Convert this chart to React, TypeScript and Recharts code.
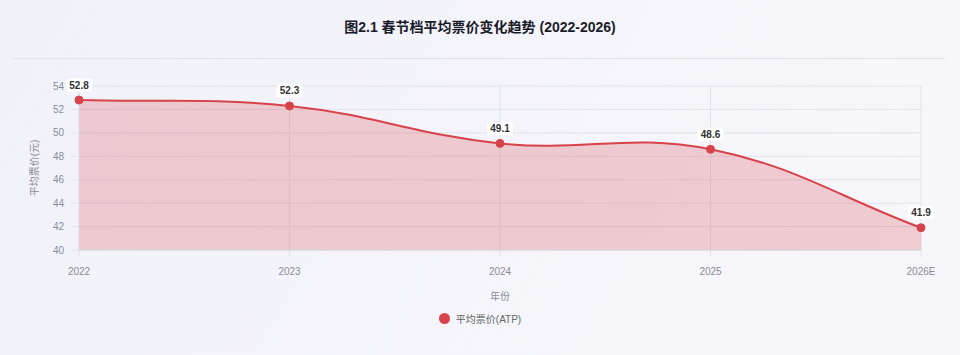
import React from "react"
import { AreaChart, Area, XAxis, YAxis, CartesianGrid, Legend, LabelList, Label } from "recharts"

const years = ["2022", "2023", "2024", "2025", "2026E"]
const atp = [52.8, 52.3, 49.1, 48.6, 41.9]
const yTicks = [40, 42, 44, 46, 48, 50, 52, 54]

const data = years.map((year, i) => ({ year, atp: atp[i] }))

const LINE = "#d8434b"
const GRID = "#e2e2ea"
const AXIS_TEXT = "#8b8b98"
const FONT = '"Liberation Sans", "Noto Sans CJK SC", sans-serif'

// spline like chart.js (tension 0.4), passes through every point
function splineCurve(context: any) {
  let pts: number[][] = []
  let line = NaN
  const tension = 0.4
  return {
    areaStart() {
      line = 0
    },
    areaEnd() {
      line = NaN
    },
    lineStart() {
      pts = []
    },
    point(x: number, y: number) {
      pts.push([+x, +y])
    },
    lineEnd() {
      const n = pts.length
      if (n) {
        if (line) context.lineTo(pts[0][0], pts[0][1])
        else context.moveTo(pts[0][0], pts[0][1])
        const cps = pts.map((cur, i) => {
          const prev = pts[i - 1] || cur
          const next = pts[i + 1] || cur
          const d01 = Math.hypot(cur[0] - prev[0], cur[1] - prev[1])
          const d12 = Math.hypot(next[0] - cur[0], next[1] - cur[1])
          let s01 = d01 / (d01 + d12)
          let s12 = d12 / (d01 + d12)
          if (isNaN(s01)) s01 = 0
          if (isNaN(s12)) s12 = 0
          const fa = tension * s01
          const fb = tension * s12
          return {
            px: cur[0] - fa * (next[0] - prev[0]),
            py: cur[1] - fa * (next[1] - prev[1]),
            nx: cur[0] + fb * (next[0] - prev[0]),
            ny: cur[1] + fb * (next[1] - prev[1]),
          }
        })
        for (let i = 1; i < n; i++) {
          context.bezierCurveTo(cps[i - 1].nx, cps[i - 1].ny, cps[i].px, cps[i].py, pts[i][0], pts[i][1])
        }
      }
      if (line || (line !== 0 && n === 1)) context.closePath()
      line = 1 - line
    },
  }
}

const ValueTag = (props: any) => {
  const { x, y, value } = props
  const w = 26
  const h = 13
  return (
    <g>
      <rect x={x - w / 2} y={y - 15 - h / 2} width={w} height={h} rx={3} fill="#ffffff" />
      <text
        x={x}
        y={y - 15}
        dy="0.35em"
        textAnchor="middle"
        fontSize={10}
        fontWeight="bold"
        fill="#333333"
        fontFamily={FONT}
      >
        {value}
      </text>
    </g>
  )
}

const renderLegend = () => (
  <div
    style={{
      display: "flex",
      justifyContent: "center",
      alignItems: "center",
      height: 16,
      fontSize: 10,
      color: "#666666",
      fontFamily: FONT,
    }}
  >
    <span
      style={{ width: 11, height: 11, borderRadius: "50%", background: LINE, marginRight: 6, display: "inline-block" }}
    />
    平均票价(ATP)
  </div>
)

export default function App() {
  return (
    <div
      style={{
        position: "fixed",
        left: 0,
        top: 0,
        width: 960,
        height: 355,
        background: "linear-gradient(120deg, #f1f2f9 0%, #f7f7fb 100%)",
        fontFamily: FONT,
        overflow: "hidden",
      }}
    >
      <div
        style={{
          position: "absolute",
          top: 17,
          left: 0,
          width: 960,
          textAlign: "center",
          fontSize: 14,
          lineHeight: "20px",
          fontWeight: "bold",
          color: "#1b1b2a",
        }}
      >
        图2.1 春节档平均票价变化趋势 (2022-2026)
      </div>
      <div style={{ position: "absolute", top: 58, left: 13, width: 932, height: 1, background: "#e1e1e9" }} />
      <div style={{ position: "absolute", top: 0, left: 0 }}>
        <AreaChart width={960} height={355} data={data} margin={{ top: 86, right: 39, left: 0, bottom: 29 }}>
          <CartesianGrid stroke={GRID} vertical horizontal />
          <XAxis
            dataKey="year"
            height={60}
            axisLine={{ stroke: "#d6d6de" }}
            tickLine={{ stroke: GRID }}
            tickSize={7}
            tickMargin={11}
            tick={{ fontSize: 10, fill: AXIS_TEXT, fontFamily: FONT }}
            interval={0}
          >
            <Label value="年份" position="insideBottom" offset={10} fontSize={10} fill={AXIS_TEXT} fontFamily={FONT} />
          </XAxis>
          <YAxis
            width={79}
            domain={[40, 54]}
            ticks={yTicks}
            axisLine={{ stroke: GRID }}
            tickLine={{ stroke: GRID }}
            tickSize={8}
            tickMargin={7}
            tick={{ fontSize: 10, fill: AXIS_TEXT, fontFamily: FONT }}
          >
            <Label
              value="平均票价(元)"
              angle={-90}
              position="insideLeft"
              offset={34}
              fontSize={10}
              fill={AXIS_TEXT}
              fontFamily={FONT}
              style={{ textAnchor: "middle" }}
            />
          </YAxis>
          <Legend verticalAlign="bottom" content={renderLegend} wrapperStyle={{ left: 0, width: 960 }} />
          <Area
            dataKey="atp"
            name="平均票价(ATP)"
            type={splineCurve as any}
            stroke={LINE}
            strokeWidth={2}
            fill={LINE}
            fillOpacity={0.24}
            dot={{ r: 4, fill: LINE, stroke: LINE, strokeWidth: 1, fillOpacity: 1 }}
            activeDot={false}
            isAnimationActive={false}
          >
            <LabelList dataKey="atp" content={<ValueTag />} />
          </Area>
        </AreaChart>
      </div>
    </div>
  )
}
